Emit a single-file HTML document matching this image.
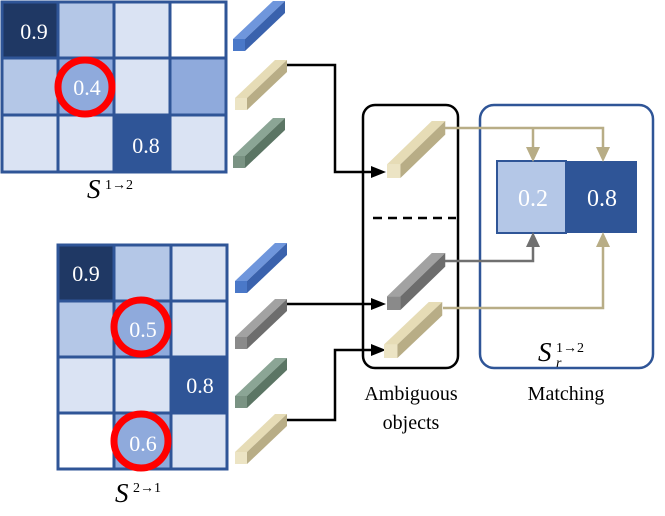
<!DOCTYPE html>
<html><head><meta charset="utf-8"><style>
html,body{margin:0;padding:0;background:#fff}
svg{display:block}
svg text{font-family:"Liberation Serif","Times New Roman",serif}
</style></head><body>
<svg width="665" height="516" viewBox="0 0 665 516" xmlns="http://www.w3.org/2000/svg" font-family="Liberation Serif, serif">
<defs>
<g id="bb"><polygon points="0,38 12,38 12,50 0,50" fill="#4a78c8"/><polygon points="0,38 40,0 52,0 12,38" fill="#6f96dc"/><polygon points="12,38 52,0 52,12 12,50" fill="#3a62ad"/></g>
<g id="by"><polygon points="0,38 12,38 12,50 0,50" fill="#ece4c4"/><polygon points="0,38 40,0 52,0 12,38" fill="#e6dcb6"/><polygon points="12,38 52,0 52,12 12,50" fill="#b8ad86"/></g>
<g id="bg"><polygon points="0,38 12,38 12,50 0,50" fill="#7a9383"/><polygon points="0,38 40,0 52,0 12,38" fill="#8ba595"/><polygon points="12,38 52,0 52,12 12,50" fill="#5b7564"/></g>
<g id="bk"><polygon points="0,38 12,38 12,50 0,50" fill="#8a8a8a"/><polygon points="0,38 40,0 52,0 12,38" fill="#a2a2a2"/><polygon points="12,38 52,0 52,12 12,50" fill="#6d6d6d"/></g>
</defs>
<g stroke="#2f5597" stroke-width="3">
<rect x="2" y="2" width="56" height="56" fill="#1f3864"/>
<rect x="58" y="2" width="56" height="56" fill="#b4c7e7"/>
<rect x="114" y="2" width="56" height="56" fill="#dae3f3"/>
<rect x="170" y="2" width="56" height="56" fill="#fff"/>
<rect x="2" y="58" width="56" height="57" fill="#b4c7e7"/>
<rect x="58" y="58" width="56" height="57" fill="#8faadc"/>
<rect x="114" y="58" width="56" height="57" fill="#dae3f3"/>
<rect x="170" y="58" width="56" height="57" fill="#8faadc"/>
<rect x="2" y="115" width="56" height="57" fill="#dae3f3"/>
<rect x="58" y="115" width="56" height="57" fill="#dae3f3"/>
<rect x="114" y="115" width="56" height="57" fill="#2f5597"/>
<rect x="170" y="115" width="56" height="57" fill="#dae3f3"/>
</g>
<circle cx="85" cy="87" r="27" fill="none" stroke="#f00" stroke-width="7"/>
<g fill="#fff" font-size="22" text-anchor="middle" font-family="Liberation Serif, serif">
<text x="34" y="39">0.9</text><text x="87" y="95">0.4</text><text x="146" y="153">0.8</text>
</g>
<g font-family="Liberation Serif, serif">
<text x="87" y="198" font-size="27" font-style="italic">S</text><text x="105" y="189" font-size="14">1→2</text>
</g>
<g stroke="#2f5597" stroke-width="3">
<rect x="58" y="245" width="56" height="56" fill="#1f3864"/>
<rect x="114" y="245" width="57" height="56" fill="#b4c7e7"/>
<rect x="171" y="245" width="56" height="56" fill="#dae3f3"/>
<rect x="58" y="301" width="56" height="56" fill="#b4c7e7"/>
<rect x="114" y="301" width="57" height="56" fill="#8faadc"/>
<rect x="171" y="301" width="56" height="56" fill="#dae3f3"/>
<rect x="58" y="357" width="56" height="56" fill="#dae3f3"/>
<rect x="114" y="357" width="57" height="56" fill="#dae3f3"/>
<rect x="171" y="357" width="56" height="56" fill="#2f5597"/>
<rect x="58" y="413" width="56" height="56" fill="#fff"/>
<rect x="114" y="413" width="57" height="56" fill="#8faadc"/>
<rect x="171" y="413" width="56" height="56" fill="#dae3f3"/>
</g>
<circle cx="141" cy="327" r="27" fill="none" stroke="#f00" stroke-width="7"/>
<circle cx="141" cy="441" r="27" fill="none" stroke="#f00" stroke-width="7"/>
<g fill="#fff" font-size="22" text-anchor="middle" font-family="Liberation Serif, serif">
<text x="86" y="281">0.9</text><text x="143" y="337">0.5</text><text x="200" y="393">0.8</text><text x="143" y="451">0.6</text>
</g>
<g font-family="Liberation Serif, serif">
<text x="115" y="502" font-size="27" font-style="italic">S</text><text x="133" y="492" font-size="14">2→1</text>
</g>
<use href="#bb" x="233" y="1"/>
<use href="#by" x="235" y="60"/>
<use href="#bg" x="233" y="118"/>
<use href="#bb" x="235" y="243"/>
<use href="#bk" x="235" y="299"/>
<use href="#bg" x="235" y="358"/>
<use href="#by" x="235" y="414"/>
<g fill="none" stroke="#000" stroke-width="2.5">
<polyline points="287,65 335,65 335,172 372,172"/>
<polyline points="287,304 372,304"/>
<polyline points="287,420 335,420 335,350 372,350"/>
</g>
<g fill="#000">
<polygon points="386,172 371,166 371,178"/>
<polygon points="386,304 371,298 371,310"/>
<polygon points="386,350 371,344 371,356"/>
</g>
<rect x="363" y="105" width="95" height="263" rx="12" fill="none" stroke="#000" stroke-width="2.5"/>
<line x1="373" y1="218" x2="456" y2="218" stroke="#000" stroke-width="2.5" stroke-dasharray="9,6"/>
<use href="#by" transform="translate(387,121) scale(1.12,1.14)"/>
<use href="#bk" transform="translate(387,253) scale(1.12,1.14)"/>
<use href="#by" transform="translate(384,302) scale(1.12,1.12)"/>
<rect x="480" y="105" width="173" height="263" rx="14" fill="none" stroke="#2f5597" stroke-width="2.5"/>
<rect x="497" y="161" width="69" height="72" fill="#b4c7e7" stroke="#2f5597" stroke-width="2"/>
<rect x="566" y="161" width="71" height="72" fill="#2f5597"/>
<g fill="#fff" font-size="24" text-anchor="middle" font-family="Liberation Serif, serif">
<text x="533" y="206">0.2</text><text x="602" y="206">0.8</text>
</g>
<g fill="none" stroke-width="2.5">
<polyline points="445,128 603,128 603,150" stroke="#b8ad86"/>
<polyline points="533,128 533,150" stroke="#b8ad86"/>
<polyline points="445,261 533,261 533,244" stroke="#707070"/>
<polyline points="443,308 603,308 603,244" stroke="#b8ad86"/>
</g>
<polygon points="533,162 526,147 540,147" fill="#b8ad86"/>
<polygon points="603,162 596,147 610,147" fill="#b8ad86"/>
<polygon points="533,232 526,247 540,247" fill="#707070"/>
<polygon points="603,232 596,247 610,247" fill="#b8ad86"/>
<g font-family="Liberation Serif, serif">
<text x="538" y="361" font-size="27" font-style="italic">S</text><text x="556" y="352" font-size="14">1→2</text><text x="556" y="367" font-size="14" font-style="italic">r</text>
</g>
<g font-size="20" text-anchor="middle" fill="#000" font-family="Liberation Serif, serif">
<text x="411" y="400">Ambiguous</text><text x="411" y="429">objects</text><text x="566" y="400">Matching</text>
</g>
</svg>
</body></html>
